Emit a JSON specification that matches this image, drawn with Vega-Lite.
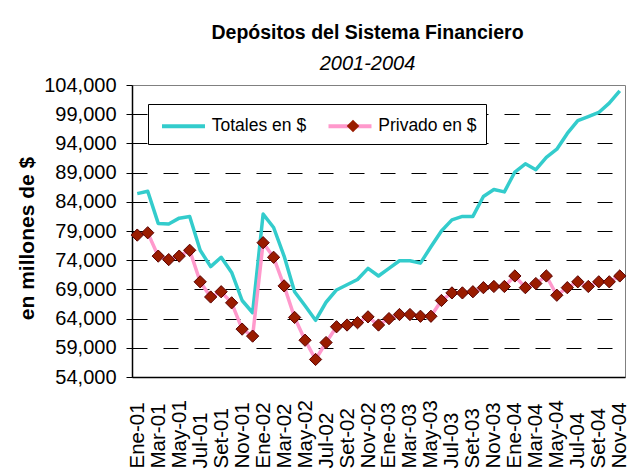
{
  "$schema": "https://vega.github.io/schema/vega-lite/v6.json",
  "width": 493,
  "height": 292,
  "autosize": "none",
  "padding": {"left": 132, "top": 85, "right": 4, "bottom": 92},
  "background": "#ffffff",
  "config": {
    "font": "Liberation Sans",
    "view": {"stroke": "#808080", "strokeWidth": 1},
    "title": {"subtitleFontSize": 20, "subtitleFontStyle": "italic", "subtitleFont": "Liberation Sans"}
  },
  "title": {
    "text": "Depósitos del Sistema Financiero",
    "subtitle": "2001-2004",
    "font": "Liberation Sans",
    "fontSize": 19.5,
    "fontWeight": "bold",
    "color": "#000000",
    "subtitleFont": "Liberation Sans",
    "subtitleFontSize": 20,
    "subtitleFontStyle": "italic",
    "subtitleColor": "#000000",
    "subtitlePadding": 11,
    "anchor": "middle",
    "frame": "group",
    "dx": -11,
    "offset": 0
  },
  "data": {
    "values": [
      {"mes": "Ene-01", "Totales en $": 85400, "Privado en $": 78300},
      {"mes": "Feb-01", "Totales en $": 85800, "Privado en $": 78700},
      {"mes": "Mar-01", "Totales en $": 80300, "Privado en $": 74700},
      {"mes": "Abr-01", "Totales en $": 80200, "Privado en $": 74100},
      {"mes": "May-01", "Totales en $": 81200, "Privado en $": 74700},
      {"mes": "Jun-01", "Totales en $": 81500, "Privado en $": 75700},
      {"mes": "Jul-01", "Totales en $": 75700, "Privado en $": 70300},
      {"mes": "Ago-01", "Totales en $": 72900, "Privado en $": 67700},
      {"mes": "Set-01", "Totales en $": 74500, "Privado en $": 68600},
      {"mes": "Oct-01", "Totales en $": 71900, "Privado en $": 66700},
      {"mes": "Nov-01", "Totales en $": 67100, "Privado en $": 62200},
      {"mes": "Dic-01", "Totales en $": 65000, "Privado en $": 61000},
      {"mes": "Ene-02", "Totales en $": 81900, "Privado en $": 77000},
      {"mes": "Feb-02", "Totales en $": 79600, "Privado en $": 74500},
      {"mes": "Mar-02", "Totales en $": 74700, "Privado en $": 69600},
      {"mes": "Abr-02", "Totales en $": 68600, "Privado en $": 64200},
      {"mes": "May-02", "Totales en $": 66200, "Privado en $": 60300},
      {"mes": "Jun-02", "Totales en $": 63700, "Privado en $": 57000},
      {"mes": "Jul-02", "Totales en $": 66800, "Privado en $": 59900},
      {"mes": "Ago-02", "Totales en $": 68900, "Privado en $": 62600},
      {"mes": "Set-02", "Totales en $": 69800, "Privado en $": 62900},
      {"mes": "Oct-02", "Totales en $": 70700, "Privado en $": 63300},
      {"mes": "Nov-02", "Totales en $": 72600, "Privado en $": 64300},
      {"mes": "Dic-02", "Totales en $": 71300, "Privado en $": 62900},
      {"mes": "Ene-03", "Totales en $": 72600, "Privado en $": 64000},
      {"mes": "Feb-03", "Totales en $": 73900, "Privado en $": 64700},
      {"mes": "Mar-03", "Totales en $": 73900, "Privado en $": 64700},
      {"mes": "Abr-03", "Totales en $": 73500, "Privado en $": 64400},
      {"mes": "May-03", "Totales en $": 76300, "Privado en $": 64400},
      {"mes": "Jun-03", "Totales en $": 79000, "Privado en $": 67100},
      {"mes": "Jul-03", "Totales en $": 80900, "Privado en $": 68400},
      {"mes": "Ago-03", "Totales en $": 81500, "Privado en $": 68400},
      {"mes": "Set-03", "Totales en $": 81500, "Privado en $": 68600},
      {"mes": "Oct-03", "Totales en $": 84900, "Privado en $": 69300},
      {"mes": "Nov-03", "Totales en $": 86100, "Privado en $": 69500},
      {"mes": "Dic-03", "Totales en $": 85700, "Privado en $": 69500},
      {"mes": "Ene-04", "Totales en $": 89100, "Privado en $": 71300},
      {"mes": "Feb-04", "Totales en $": 90500, "Privado en $": 69300},
      {"mes": "Mar-04", "Totales en $": 89500, "Privado en $": 70000},
      {"mes": "Abr-04", "Totales en $": 91600, "Privado en $": 71300},
      {"mes": "May-04", "Totales en $": 93000, "Privado en $": 68000},
      {"mes": "Jun-04", "Totales en $": 95700, "Privado en $": 69300},
      {"mes": "Jul-04", "Totales en $": 97900, "Privado en $": 70300},
      {"mes": "Ago-04", "Totales en $": 98600, "Privado en $": 69500},
      {"mes": "Set-04", "Totales en $": 99300, "Privado en $": 70300},
      {"mes": "Oct-04", "Totales en $": 100900, "Privado en $": 70300},
      {"mes": "Nov-04", "Totales en $": 103000, "Privado en $": 71300}
    ]
  },
  "transform": [
    {"fold": ["Totales en $", "Privado en $"], "as": ["serie", "valor"]}
  ],
  "encoding": {
    "x": {
      "field": "mes",
      "type": "ordinal",
      "sort": null,
      "scale": {"type": "point", "padding": 0.5},
      "axis": {
        "title": null,
        "values": ["Ene-01","Mar-01","May-01","Jul-01","Set-01","Nov-01","Ene-02","Mar-02","May-02","Jul-02","Set-02","Nov-02","Ene-03","Mar-03","May-03","Jul-03","Set-03","Nov-03","Ene-04","Mar-04","May-04","Jul-04","Set-04","Nov-04"],
        "labelAngle": -90,
        "labelAlign": "left",
        "labelBaseline": "middle",
        "labelFont": "Liberation Sans",
        "labelFontSize": 20.5,
        "labelColor": "#000000",
        "labelPadding": 91,
        "ticks": false,
        "domainColor": "#000000",
        "domainWidth": 1.5,
        "grid": false,
        "labelOverlap": false,
        "labelBound": false
      }
    },
    "y": {
      "field": "valor",
      "type": "quantitative",
      "scale": {"domain": [54000, 104000], "nice": false, "zero": false},
      "axis": {
        "title": "en millones de $",
        "titleFont": "Liberation Sans",
        "titleFontSize": 21,
        "titleFontWeight": "bold",
        "titleColor": "#000000",
        "titleAngle": -90,
        "titleAlign": "center",
        "titleBaseline": "alphabetic",
        "titleX": -99,
        "titleY": 153,
        "values": [54000, 59000, 64000, 69000, 74000, 79000, 84000, 89000, 94000, 99000, 104000],
        "format": ",d",
        "labelFont": "Liberation Sans",
        "labelFontSize": 20,
        "labelColor": "#000000",
        "labelPadding": 10,
        "tickSize": 6,
        "tickColor": "#000000",
        "domainColor": "#000000",
        "domainWidth": 1.5,
        "grid": true,
        "gridColor": "#000000",
        "gridWidth": 1,
        "gridDash": [15, 16],
        "gridOpacity": {"condition": {"test": "datum.value >= 104000", "value": 0}, "value": 1}
      }
    }
  },
  "layer": [
    {
      "mark": {"type": "line", "strokeWidth": 3.5, "strokeJoin": "round"},
      "encoding": {
        "color": {
          "field": "serie",
          "type": "nominal",
          "scale": {"domain": ["Totales en $", "Privado en $"], "range": ["#33CCCC", "#FF99CC"]},
          "legend": {
            "title": null,
            "orient": "none",
            "legendX": 16,
            "legendY": 19,
            "direction": "horizontal",
            "columns": 2,
            "padding": 9,
            "columnPadding": 13.5,
            "symbolType": "M-1,0H3",
            "symbolSize": 462,
            "symbolStrokeWidth": 4,
            "symbolOffset": 2.75,
            "labelFont": "Liberation Sans",
            "labelFontSize": 17.5,
            "labelColor": "#000000",
            "labelOffset": 26,
            "fillColor": "#ffffff",
            "strokeColor": "#000000"
          }
        }
      }
    },
    {
      "transform": [{"filter": "datum.serie === 'Privado en $'"}],
      "mark": {"type": "point", "filled": true, "fill": "#9a1c00", "stroke": "#5a0000", "strokeWidth": 1, "size": 150, "opacity": 1},
      "encoding": {
        "shape": {
          "field": "serie",
          "type": "nominal",
          "scale": {"domain": ["Privado en $"], "range": ["diamond"]},
          "legend": {
            "title": null,
            "orient": "none",
            "legendX": 214,
            "legendY": 34,
            "padding": 0,
            "labelExpr": "''",
            "symbolSize": 160,
            "symbolFillColor": "#9a1c00",
            "symbolStrokeColor": "#5a0000",
            "symbolStrokeWidth": 1,
            "symbolOpacity": 1
          }
        }
      }
    }
  ]
}
